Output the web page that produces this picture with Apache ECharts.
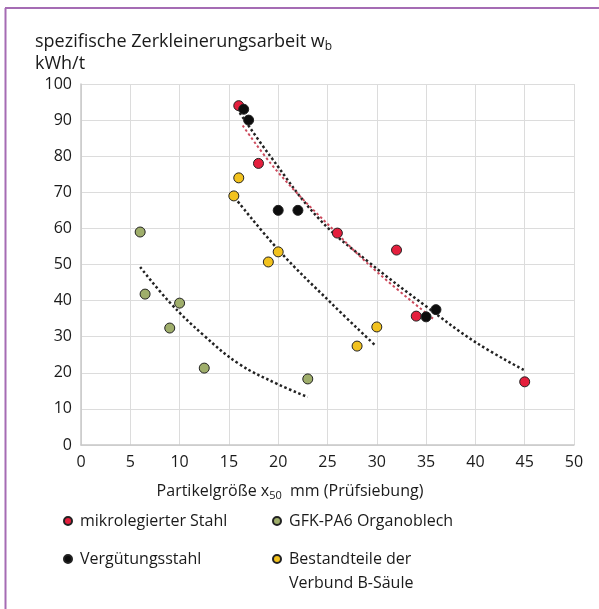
<!DOCTYPE html>
<html>
<head>
<meta charset="utf-8">
<script src="https://cdn.jsdelivr.net/npm/echarts@6/dist/echarts.min.js"></script>
<style>
  html, body { margin: 0; padding: 0; background: #fff; }
  #chart { width: 599px; height: 609px; }
</style>
</head>
<body>
<div id="chart"></div>
<script>
// Messpunkte [x50 mm, kWh/t]
const stahlPoints = [[16, 94], [18, 78], [26, 58.7], [32, 54], [34, 35.7], [45, 17.5]];
const vergPoints = [[16.5, 93], [17, 90], [20, 65], [22, 65], [35, 35.5], [36, 37.5]];
const gfkPoints = [[6, 59], [6.5, 41.8], [9, 32.4], [10, 39.3], [12.5, 21.3], [23, 18.3]];
const saeulePoints = [[15.5, 69], [16, 74], [19, 50.7], [20, 53.5], [28, 27.4], [30, 32.7]];

// Trendlinien
const stahlTrend = [[16.4, 88.5], [20, 75.5], [26, 58.5], [30, 48], [35.7, 35]];
const vergTrend = [[16.1, 92], [19.2, 80], [24.2, 62.5], [29.3, 50.4], [35.1, 38.2], [40, 28.5], [44.9, 20.8]];
const gfkTrend = [[6, 49.3], [9, 39.5], [12.4, 30.5], [16, 22.5], [20, 16.8], [23, 13.3]];
const saeuleTrend = [[15.6, 68.5], [20.2, 53.5], [25.3, 39.5], [29.8, 27.7]];

const names = ['mikrolegierter Stahl', 'Vergütungsstahl', 'GFK-PA6 Organoblech', 'Bestandteile der\nVerbund B-Säule'];
const colors = ['#e41f3d', '#0d0d0d', '#9fae6b', '#f2c21e'];

const font = 'Open Sans';
const chart = echarts.init(document.getElementById('chart'));

function scatter(i, data) {
  return {
    name: names[i],
    type: 'scatter',
    data: data,
    symbolSize: 10,
    z: 5,
    itemStyle: { color: colors[i], borderColor: '#222', borderWidth: 1, opacity: 1 }
  };
}

function trend(data, color, width) {
  return {
    type: 'line',
    data: data,
    smooth: 0.4,
    showSymbol: false,
    silent: true,
    z: 2,
    lineStyle: { color: color, width: width, type: [2.5, 2.5] }
  };
}

function legendAt(i, left, top, lh, fmt) {
  return {
    data: [names[i]],
    left: left,
    top: top,
    padding: 0,
    icon: 'circle',
    itemWidth: 8,
    itemHeight: 8,
    selectedMode: false,
    formatter: fmt,
    textStyle: { fontFamily: font, fontSize: 16, color: '#1a1a1a', lineHeight: lh, padding: [0, 0, 0, 3] }
  };
}

chart.setOption({
  animation: false,
  title: {
    left: 35,
    top: 31,
    padding: 0,
    text: '{a|spezifische Zerkleinerungsarbeit w}{s|b}\n{a|kWh/t}',
    textStyle: {
      fontWeight: 'normal',
      rich: {
        a: { fontFamily: font, fontSize: 18, fontWeight: 'normal', color: '#1a1a1a', lineHeight: 22 },
        s: { fontFamily: font, fontSize: 12, fontWeight: 'normal', color: '#1a1a1a', lineHeight: 12, verticalAlign: 'bottom' }
      }
    }
  },
  grid: { left: 81, right: 25, top: 84, bottom: 164 },
  xAxis: {
    type: 'value',
    min: 0, max: 50, interval: 5,
    name: '{a|Partikelgröße x}{s|50}{a|  mm (Prüfsiebung)}',
    nameLocation: 'middle',
    nameGap: 36,
    nameTextStyle: {
      padding: [0, 75, 0, 0],
      rich: {
        a: { fontFamily: font, fontSize: 16, color: '#1a1a1a', lineHeight: 20 },
        s: { fontFamily: font, fontSize: 11, color: '#1a1a1a', lineHeight: 12, verticalAlign: 'bottom' }
      }
    },
    axisLine: { lineStyle: { color: '#c8c8c8', width: 1.5 } },
    axisTick: { show: false },
    axisLabel: { fontFamily: font, fontSize: 16, color: '#1a1a1a', margin: 9 },
    splitLine: { lineStyle: { color: '#dcdcdc', width: 1 } }
  },
  yAxis: {
    type: 'value',
    min: 0, max: 100, interval: 10,
    axisLine: { show: true, lineStyle: { color: '#c8c8c8', width: 1.5 } },
    axisTick: { show: false },
    axisLabel: { fontFamily: font, fontSize: 16, color: '#1a1a1a', margin: 9 },
    splitLine: { lineStyle: { color: '#dcdcdc', width: 1 } }
  },
  legend: [
    legendAt(0, 63, 511, 20),
    legendAt(1, 63, 549, 20),
    legendAt(2, 272, 511, 20),
    // leere erste Zeile, damit die Markierung auf Höhe der ersten Textzeile sitzt
    legendAt(3, 272, 523, 24, function (name) { return ' \n' + name; })
  ],
  graphic: [
    { type: 'line', shape: { x1: 5, y1: 8, x2: 599, y2: 8 }, style: { stroke: '#a56cb4', lineWidth: 2 } },
    { type: 'line', shape: { x1: 5.5, y1: 8, x2: 5.5, y2: 609 }, style: { stroke: '#a56cb4', lineWidth: 2 } }
  ],
  series: [
    trend(gfkTrend, '#222', 2.5),
    trend(saeuleTrend, '#222', 2.5),
    trend(vergTrend, '#222', 2.5),
    trend(stahlTrend, '#cc4a5c', 2),
    scatter(0, stahlPoints),
    scatter(1, vergPoints),
    scatter(2, gfkPoints),
    scatter(3, saeulePoints)
  ]
});
</script>
</body>
</html>
